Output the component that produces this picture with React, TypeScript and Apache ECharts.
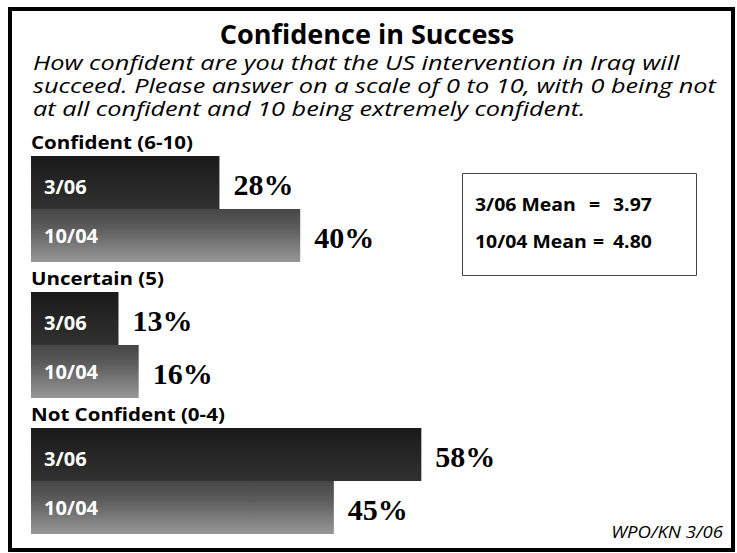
import React, { useEffect, useRef } from "react";
import * as echarts from "echarts";

const title = "Confidence in Success";
const subtitleLines = [
  "How confident are you that the US intervention in Iraq will",
  "succeed. Please answer on a scale of 0 to 10, with 0 being not",
  "at all confident and 10 being extremely confident.",
];
const categories = ["Confident (6-10)", "Uncertain (5)", "Not Confident (0-4)"];
const seriesNames = ["3/06", "10/04"];
const values306 = [28, 13, 58];
const values1004 = [40, 16, 45];
const meanLabels = ["3/06 Mean", "10/04 Mean"];
const meanValues = ["3.97", "4.80"];
const sourceNote = "WPO/KN 3/06";

const SANS = "'Open Sans', Lato, sans-serif";
const SERIF = "'Liberation Serif', 'DejaVu Serif', serif";
const BAR_W = 53;

export default function App() {
  const ref = useRef<HTMLDivElement>(null);

  useEffect(() => {
    if (!ref.current) return;
    const chart = echarts.init(ref.current, undefined, { renderer: "svg" });

    const grad306 = new echarts.graphic.LinearGradient(0, 0, 0, 1, [
      { offset: 0, color: "#1a1a1a" },
      { offset: 1, color: "#313131" },
    ]);
    const grad1004 = new echarts.graphic.LinearGradient(0, 0, 0, 1, [
      { offset: 0, color: "#464646" },
      { offset: 0.35, color: "#5c5c5c" },
      { offset: 1, color: "#979797" },
    ]);

    const nameLabel = (name: string, dy: number) => ({
      show: true,
      position: "insideLeft",
      distance: 13,
      formatter: name,
      color: "#ffffff",
      fontFamily: SANS,
      fontWeight: "bold",
      fontSize: 20,
      offset: [0, dy],
    });
    const valueLabel = (vals: number[], dy: number) => ({
      show: true,
      position: "right",
      distance: 14,
      formatter: (p: any) => `${vals[p.dataIndex]}%`,
      color: "#000000",
      fontFamily: SERIF,
      fontWeight: "bold",
      fontSize: 30,
      offset: [0, dy],
    });

    chart.setOption({
      animation: false,
      backgroundColor: "#ffffff",
      grid: { left: 31, width: 673, top: 141, height: 408, containLabel: false },
      xAxis: { type: "value", min: 0, max: 100, show: false },
      yAxis: {
        type: "category",
        data: categories,
        inverse: true,
        show: false,
      },
      series: [
        {
          type: "bar",
          name: seriesNames[0],
          stack: "s306",
          data: values306,
          barWidth: BAR_W,
          barGap: "0%",
          itemStyle: { color: grad306 },
          label: nameLabel(seriesNames[0], 4),
          silent: true,
        },
        {
          type: "bar",
          name: seriesNames[0] + " value",
          stack: "s306",
          data: values306.map(() => 0),
          barWidth: BAR_W,
          barGap: "0%",
          itemStyle: { color: "transparent" },
          label: valueLabel(values306, 2),
          silent: true,
        },
        {
          type: "bar",
          name: seriesNames[1],
          stack: "s1004",
          data: values1004,
          barWidth: BAR_W,
          barGap: "0%",
          itemStyle: { color: grad1004 },
          label: nameLabel(seriesNames[1], 0),
          silent: true,
        },
        {
          type: "bar",
          name: seriesNames[1] + " value",
          stack: "s1004",
          data: values1004.map(() => 0),
          barWidth: BAR_W,
          barGap: "0%",
          itemStyle: { color: "transparent" },
          label: valueLabel(values1004, 2),
          silent: true,
        },
      ],
    });

    const catLabels = categories.map((c, i) => {
      const cy = chart.convertToPixel({ yAxisIndex: 0 }, i) as number;
      return {
        type: "text",
        x: 31,
        y: cy - BAR_W - 14,
        scaleX: 1.14,
        style: {
          text: c,
          fontFamily: SANS,
          fontWeight: "bold",
          fontSize: 18,
          fill: "#000",
          align: "left",
          verticalAlign: "middle",
        },
      };
    });

    const meanText = (t: string, x: number, y: number) => ({
      type: "text",
      x,
      y,
      scaleX: 1.08,
      style: {
        text: t,
        fontFamily: SANS,
        fontWeight: "bold",
        fontSize: 18,
        fill: "#000",
        align: "left",
        verticalAlign: "middle",
      },
    });

    chart.setOption({
      graphic: [
        {
          type: "rect",
          shape: { x: 10, y: 9, width: 723, height: 541 },
          style: { fill: "none", stroke: "#000", lineWidth: 4 },
          z: 100,
        },
        {
          type: "text",
          x: 367,
          y: 34,
          scaleX: 1.04,
          style: {
            text: title,
            fontFamily: SANS,
            fontWeight: "bold",
            fontSize: 26,
            fill: "#000",
            align: "center",
            verticalAlign: "middle",
          },
        },
        ...subtitleLines.map((t, i) => ({
          type: "text",
          x: 33,
          y: 62 + i * 23,
          scaleX: 1.235,
          style: {
            text: t,
            fontFamily: SANS,
            fontStyle: "italic",
            fontSize: 20.5,
            lineHeight: 21,
            fill: "#000",
            align: "left",
            verticalAlign: "middle",
          },
        })),
        ...catLabels,
        {
          type: "rect",
          shape: { x: 462.5, y: 173.5, width: 234, height: 102 },
          style: { fill: "#fff", stroke: "#444", lineWidth: 1 },
        },
        meanText(meanLabels[0], 475, 204),
        meanText("=", 589, 204),
        meanText(meanValues[0], 613, 204),
        meanText(meanLabels[1], 475, 241),
        meanText("=", 593, 241),
        meanText(meanValues[1], 613, 241),
        {
          type: "text",
          x: 723,
          y: 532,
          scaleX: 1.2,
          style: {
            text: sourceNote,
            fontFamily: SANS,
            fontStyle: "italic",
            fontSize: 15.5,
            fill: "#000",
            align: "right",
            verticalAlign: "middle",
          },
        },
      ],
    });

    return () => chart.dispose();
  }, []);

  return (
    <div
      ref={ref}
      style={{ position: "fixed", left: 0, top: 0, width: 737, height: 553 }}
    />
  );
}
